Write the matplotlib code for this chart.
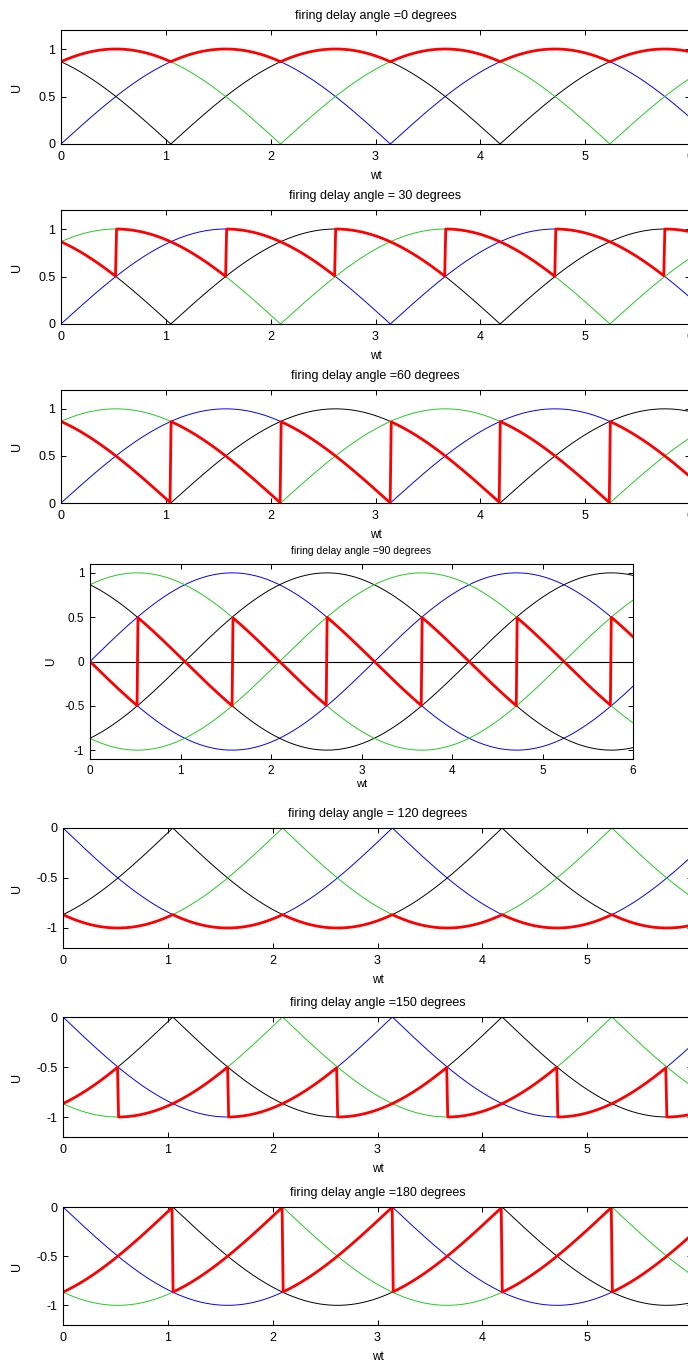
import numpy as np
import matplotlib
matplotlib.use("Agg")
import matplotlib.pyplot as plt

plt.rcParams['font.family'] = ['Liberation Sans', 'DejaVu Sans']

# ---- data ----
firing_angles_deg = [0, 30, 60, 90, 120, 150, 180]
titles = ["firing delay angle =0 degrees",
          "firing delay angle = 30 degrees",
          "firing delay angle =60 degrees",
          "firing delay angle =90 degrees",
          "firing delay angle = 120 degrees",
          "firing delay angle =150 degrees",
          "firing delay angle =180 degrees"]
phase_colors = ['#0000ff', '#000000', '#22cc22']
phase_shift_deg = [0, 120, -120]
# how phase voltages are displayed in each panel
curve_modes = ['abs', 'abs', 'abs', 'both', 'negabs', 'negabs', 'negabs']
# red output: reference firing angle and sign used in each panel
red_ref_deg = [0, 30, 60, 90, 0, 30, 60]
red_sign = [1, 1, 1, 1, -1, -1, -1]
ylims = [(0, 1.2), (0, 1.2), (0, 1.2), (-1.1, 1.1), (-1.2, 0), (-1.2, 0), (-1.2, 0)]
yticks = [[0, 0.5, 1], [0, 0.5, 1], [0, 0.5, 1], [-1, -0.5, 0, 0.5, 1],
          [-1, -0.5, 0], [-1, -0.5, 0], [-1, -0.5, 0]]
yticklabels = [['0', '0.5', '1'], ['0', '0.5', '1'], ['0', '0.5', '1'],
               ['-1', '-0.5', '0', '0.5', '1'],
               ['-1', '-0.5', '0'], ['-1', '-0.5', '0'], ['-1', '-0.5', '0']]
xticks = [0, 1, 2, 3, 4, 5, 6]
xlim = (0, 6)
wt_step = 0.01
wt_end = 2 * np.pi

# ---- layout (pixel boxes: left, top, right, bottom) ----
W, H = 688, 1362
boxes = [(61, 30, 690, 144), (61, 210, 690, 324), (61, 390, 690, 503),
         (90, 564, 633, 759), (63, 828, 692, 948), (63, 1017, 692, 1137),
         (63, 1207, 692, 1325)]
ylabel_x = [23, 23, 23, 57, 23, 23, 23]

fig = plt.figure(figsize=(W / 100, H / 100), dpi=100)
wt = np.arange(0, wt_end + wt_step, wt_step)

for i in range(7):
    l, t, r, b = boxes[i]
    ax = fig.add_axes([l / W, 1 - b / H, (r - l) / W, (b - t) / H])
    small = (i == 3)
    fs = 7.5 if small else 9
    tfs = 8.5 if small else 9

    for col, sh in zip(phase_colors, phase_shift_deg):
        v = np.sin(wt + np.deg2rad(sh))
        mode = curve_modes[i]
        if mode == 'abs':
            ax.plot(wt, np.abs(v), color=col, lw=0.7)
        elif mode == 'negabs':
            ax.plot(wt, -np.abs(v), color=col, lw=0.7)
        else:
            ax.plot(wt, v, color=col, lw=0.7)
            ax.plot(wt, -v, color=col, lw=0.7)
    if curve_modes[i] == 'both':
        ax.plot(wt, np.zeros_like(wt), color='black', lw=0.8)

    a = np.deg2rad(red_ref_deg[i])
    u = np.mod(wt - a, np.pi / 3)
    red = red_sign[i] * np.cos(u + a - np.pi / 6)
    ax.plot(wt, red, color='#ff0000', lw=2.0)

    ax.set_xlim(*xlim)
    ax.set_ylim(*ylims[i])
    ax.set_xticks(xticks)
    ax.set_xticklabels([str(x) for x in xticks])
    ax.set_yticks(yticks[i])
    ax.set_yticklabels(yticklabels[i])
    ax.tick_params(direction='in', top=True, right=True, length=3.6,
                   width=0.7, labelsize=tfs)
    ax.tick_params(axis='x', pad=5 if not small else 4)
    ax.tick_params(axis='y', pad=4)
    for s in ax.spines.values():
        s.set_linewidth(0.8)
    ax.set_title(titles[i], fontsize=fs, pad=8 if not small else 7.5)
    ax.set_xlabel('wt', fontsize=tfs - 0.5, labelpad=5 if not small else 1.5)
    ax.set_ylabel('U', fontsize=tfs)
    ax.yaxis.set_label_coords((ylabel_x[i] - l) / (r - l), 0.5)

fig.savefig('out.png', dpi=100)
